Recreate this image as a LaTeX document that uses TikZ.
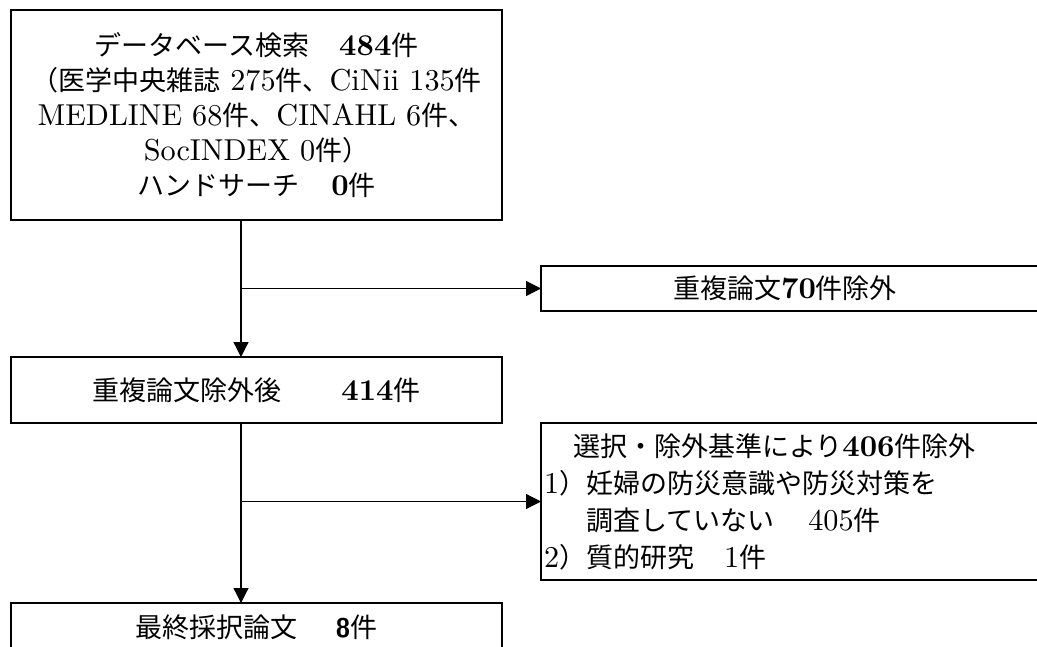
\documentclass[tikz,border=0pt]{standalone}
\usepackage{fontspec}
\usetikzlibrary{arrows.meta}
\setmainfont{lmroman10-regular.otf}[BoldFont=lmroman10-bold.otf,Scale=1.12]
\newfontfamily\jpf{Noto Sans CJK JP}
\newcommand\JP[1]{{\jpf #1}}
\begin{document}
\begin{tikzpicture}[x=1pt,y=-1pt,
  box/.style={draw=black,line width=1.2pt,rectangle,inner sep=0pt,outer sep=0pt},
  conn/.style={draw=black,line width=1.2pt,-{Triangle[length=15pt,width=15pt]}},
  font=\fontsize{27}{35}\selectfont]
\useasboundingbox (0,0) rectangle (1037,646);
\clip (0,0) rectangle (1037,646);
\node[box,minimum width=491pt,minimum height=210pt,align=center] (db) at (256.5,115)
  {\JP{データベース検索}\hspace{30pt}\textbf{484}\JP{件}\\
   \JP{（医学中央雑誌} 275\JP{件、}CiNii 135\JP{件}\\
   MEDLINE 68\JP{件、}CINAHL 6\JP{件、}\\
   SocINDEX 0\JP{件）}\\
   \JP{ハンドサーチ}\hspace{32pt}\textbf{0}\JP{件}};
\node[box,minimum width=520pt,minimum height=45pt,
  label={[name=dupt,xshift=-16pt]center:{\JP{重複論文}\textbf{70}\JP{件除外}}}] (dup) at (801,288.5) {};
\node[box,minimum width=491pt,minimum height=66pt] (dedup) at (256.5,390)
  {\JP{重複論文除外後}\hspace{60pt}\textbf{414}\JP{件}};
\node[box,minimum width=520pt,minimum height=157pt,text width=514pt,inner xsep=3pt,align=left,
  font=\fontsize{27}{37}\selectfont] (crit) at (801,501.5)
  {\hspace*{29pt}\JP{選択・除外基準により}\textbf{406}\JP{件除外}\\
   1\JP{）妊婦の防災意識や防災対策を}\\
   \phantom{1\JP{）}}\JP{調査していない}\hspace{34pt}405\JP{件}\\
   2\JP{）質的研究}\hspace{30pt}1\JP{件}};
\node[box,minimum width=491pt,minimum height=48pt] (final) at (256.5,627)
  {\JP{最終採択論文}\hspace{38pt}{\sffamily\bfseries 8}\JP{件}};
\coordinate (spine) at (241,0);
\coordinate (b1) at (241,288.5);
\coordinate (b2) at (241,501.5);
\draw[conn] (db.south -| spine) -- (dedup.north -| spine);
\draw[conn] (b1) -- (dup.west);
\draw[conn] (dedup.south -| spine) -- (final.north -| spine);
\draw[conn] (b2) -- (crit.west);
\end{tikzpicture}
\end{document}
